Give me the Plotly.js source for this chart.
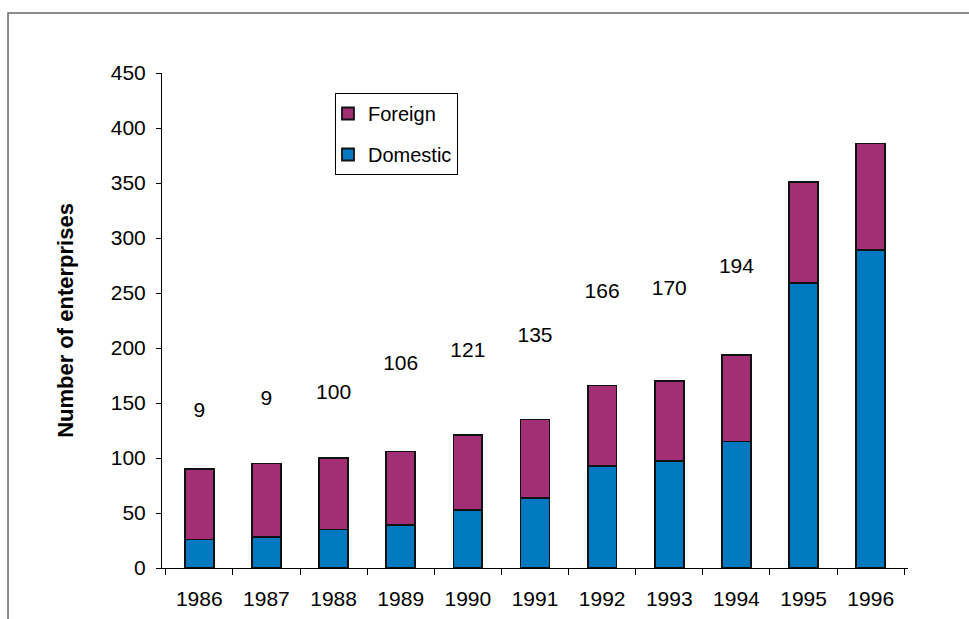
<!DOCTYPE html>
<html>
<head>
<meta charset="utf-8">
<script src="https://cdn.plot.ly/plotly-3.0.1.min.js"></script>
<style>html,body{margin:0;padding:0;background:#fff;}#chart{width:969px;height:619px;}</style>
</head>
<body>
<div id="chart"></div>
<script>
var years = ['1986','1987','1988','1989','1990','1991','1992','1993','1994','1995','1996'];
var domestic = [26, 28, 35, 39, 53, 64, 93, 97, 115, 259, 289];
var foreign = [64, 67, 65, 67, 68, 71, 73, 73, 79, 92, 97];
var totalLabels = ['9','9','100','106','121','135','166','170','194','351','386'];
var labelHeights = [142, 153, 158, 185, 197, 210, 250, 253, 273, 453, 478];

var font = 'Liberation Sans, Arial, sans-serif';
var traces = [
  {type:'bar', name:'Domestic', x:years, y:domestic, legendgroup:'d', legendrank:2,
   marker:{color:'#0079C1', line:{color:'#111', width:1.8}}, hoverinfo:'skip'},
  {type:'bar', name:'Foreign', x:years, y:foreign, legendgroup:'f', legendrank:1,
   marker:{color:'#A22F73', line:{color:'#111', width:1.8}}, hoverinfo:'skip'},
  {type:'scatter', mode:'text', x:years, y:labelHeights, text:totalLabels,
   textposition:'middle center', textfont:{family:font, size:21, color:'#000'},
   showlegend:false, hoverinfo:'skip', cliponaxis:false}
];
var layout = {
  width:969, height:619,
  margin:{l:162, r:61, t:73, b:51},
  paper_bgcolor:'#fff', plot_bgcolor:'#fff',
  barmode:'stack', bargap:0.57,
  font:{family:font, size:21, color:'#000'},
  showlegend:true,
  legend:{x:0.2319, y:0.9596, xanchor:'left', yanchor:'top', bordercolor:'#000', borderwidth:1,
          bgcolor:'#fff', font:{family:font, size:20, color:'#000'}, traceorder:'grouped',
          tracegroupgap:12, itemwidth:30, indentation:-8},
  xaxis:{type:'category', showline:true, linecolor:'#000', linewidth:1, ticks:'outside',
         tickson:'boundaries', ticklen:6, tickcolor:'#000', showgrid:false, zeroline:false,
         ticklabelstandoff:12,
         tickfont:{family:font, size:21, color:'#000'}, fixedrange:true},
  yaxis:{range:[0,450], dtick:50, showline:true, linecolor:'#000', linewidth:1, ticks:'outside',
         ticklen:5, tickcolor:'#000', showgrid:false, zeroline:false, ticklabelstandoff:6,
         tickfont:{family:font, size:21, color:'#000'},
         title:{text:'<b>Number of enterprises</b>', font:{family:font, size:22, color:'#000'}, standoff:31},
         fixedrange:true},
  shapes:[{type:'rect', xref:'paper', yref:'paper', x0:-0.2064, x1:1.2, y0:-0.2, y1:1.1212,
           line:{color:'#666', width:1.5}, fillcolor:'rgba(0,0,0,0)', layer:'below'}]
};
Plotly.newPlot('chart', traces, layout, {displayModeBar:false, staticPlot:true});
</script>
</body>
</html>
